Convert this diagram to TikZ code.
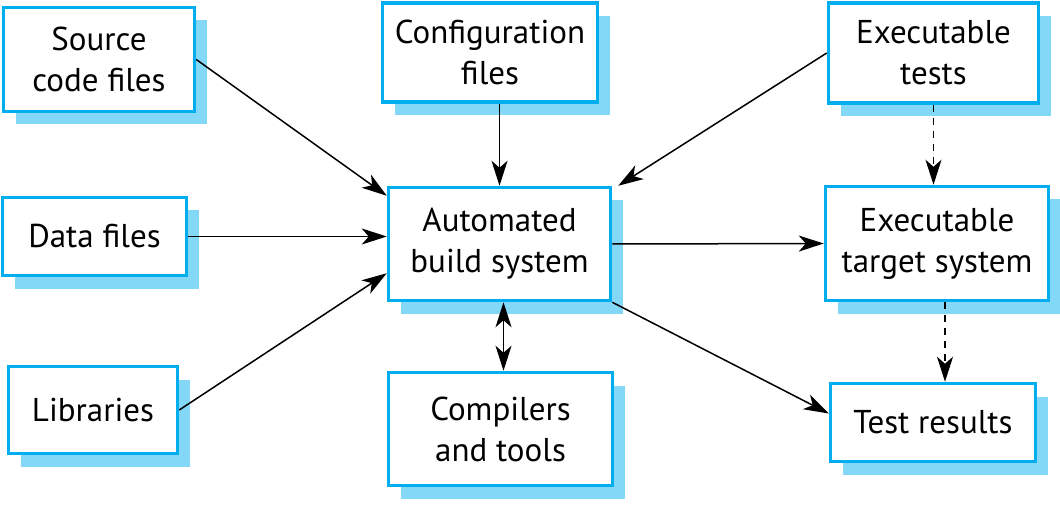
\documentclass[tikz,border=0pt]{standalone}
\usepackage{fontspec}
\setmainfont{PT Sans}
\usetikzlibrary{arrows.meta,shadows}
\definecolor{boxblue}{RGB}{0,174,239}
\definecolor{shadeblue}{RGB}{131,215,247}
\begin{document}
\begin{tikzpicture}[x=1pt, y=-1pt,
                        box/.style={draw=boxblue, line width=3.5pt, fill=white,
                          align=center, inner sep=0pt,
                          font=\fontsize{33}{41}\selectfont,
                          drop shadow={shadow xshift=12pt, shadow yshift=-13pt,
                            fill=shadeblue, opacity=1}},
                        flow/.style={-{Stealth[length=25pt,width=16pt,inset=7pt]},
                          line width=1.5pt},
                        twoway/.style={{Stealth[length=25pt,width=16pt,inset=7pt]}-{Stealth[length=25pt,width=16pt,inset=7pt]},
                          line width=1.5pt},
                        dashflow/.style={flow, dash pattern=on 7pt off 6pt}]
    \useasboundingbox (0,0) rectangle (1060,505);
    \node[box, minimum width=191pt, minimum height=104pt] (src) at (99,59.5) {Source\\code files};
    \node[box, minimum width=215pt, minimum height=99pt] (cfg) at (490,52.5) {Configuration\\files};
    \node[box, minimum width=210pt, minimum height=100pt] (tests) at (933.5,53) {Executable\\tests};
    \node[box, minimum width=184pt, minimum height=78pt] (data) at (94.5,236.5) {Data files};
    \node[box, minimum width=222pt, minimum height=113pt] (build) at (499.5,244) {Automated\\build system};
    \node[box, minimum width=223pt, minimum height=114pt] (target) at (937,243.5) {Executable\\target system};
    \node[box, minimum width=169pt, minimum height=87pt] (libs) at (93,410) {Libraries};
    \node[box, minimum width=224pt, minimum height=113pt] (comp) at (500.5,429) {Compilers\\and tools};
    \node[box, minimum width=205pt, minimum height=78pt] (results) at (933,422.5) {Test results};

    \draw[flow] (src.east) -- ([yshift=-10pt]build.north west);
    \draw[flow] (cfg.south -| build.north) -- (build.north);
    \draw[flow] (tests.west) -- ([xshift=6pt]build.north east);
    \draw[flow] (data.east) -- (build.west |- data.east);
    \draw[flow] (libs.east) -- ([yshift=29pt]build.south west);
    \draw[flow] (build.east) -- (target.west);
    \draw[flow] (build.south east) -- ([yshift=9pt]results.west);
    \draw[twoway] ([xshift=4pt]build.south) -- ([xshift=4pt]build.south |- comp.north);
    \draw[dashflow] (tests.south) -- (tests.south |- target.north);
    \draw[dashflow] ([xshift=8pt]target.south) -- ([xshift=8pt]target.south |- results.north);
\end{tikzpicture}
\end{document}
